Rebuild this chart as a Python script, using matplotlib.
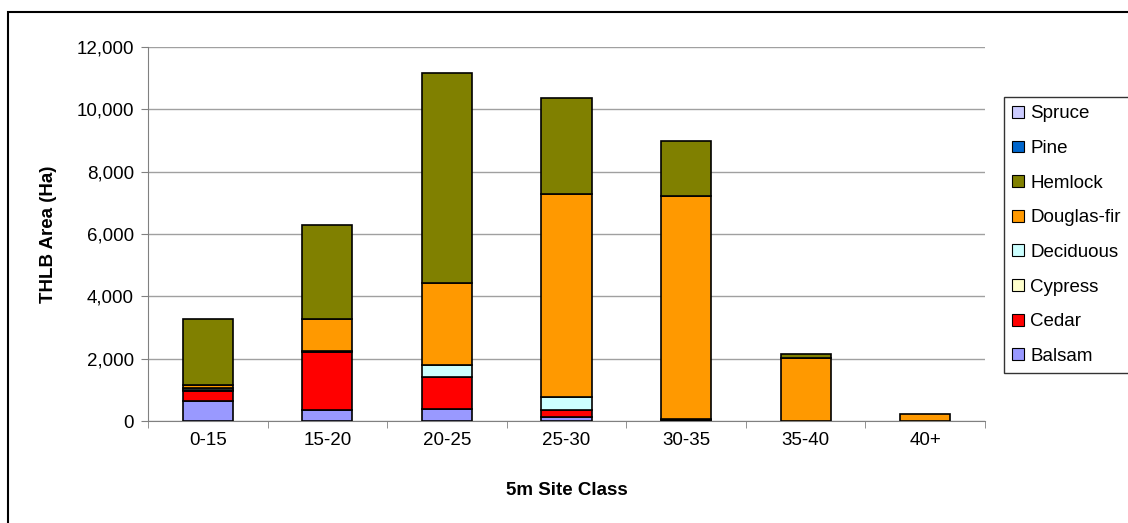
import matplotlib.pyplot as plt
from matplotlib.patches import Rectangle
from matplotlib.ticker import FuncFormatter, FixedLocator
import numpy as np

plt.rcParams['font.family'] = ['Liberation Sans', 'DejaVu Sans']

categories = ['0-15', '15-20', '20-25', '25-30', '30-35', '35-40', '40+']

# stacked bottom to top
balsam = [650, 350, 400, 120, 40, 0, 0]
cedar = [320, 1850, 1000, 220, 30, 0, 0]
cypress = [40, 30, 0, 0, 0, 0, 0]
deciduous = [40, 20, 390, 440, 10, 0, 0]
douglas = [120, 1010, 2640, 6500, 7150, 2030, 210]
hemlock = [2090, 3030, 6720, 3080, 1750, 120, 0]
pine = [0, 0, 0, 0, 0, 0, 0]
spruce = [0, 0, 0, 0, 0, 0, 0]

series = [
    ('Balsam', balsam, '#9999FF'),
    ('Cedar', cedar, '#FF0000'),
    ('Cypress', cypress, '#FFFFCC'),
    ('Deciduous', deciduous, '#CCFFFF'),
    ('Douglas-fir', douglas, '#FF9900'),
    ('Hemlock', hemlock, '#808000'),
    ('Pine', pine, '#0066CC'),
    ('Spruce', spruce, '#CCCCFF'),
]

fs = 13.5

fig = plt.figure(figsize=(11.28, 5.23), dpi=100)
ax = fig.add_axes([148/1128, 1 - 421/523, (985 - 148)/1128, (421 - 47)/523])

# outer chart border
fig.patches.append(Rectangle((8/1128, -0.05), 1.05, 1 - 12/523 + 0.05,
                             transform=fig.transFigure, fill=False,
                             edgecolor='black', linewidth=1.5))

x = np.arange(len(categories))
bottom = np.zeros(len(categories))
handles = []
for name, vals, col in series:
    vals = np.array(vals, dtype=float)
    mask = vals > 0
    ax.bar(x[mask], vals[mask], 0.42, bottom=bottom[mask], color=col,
           edgecolor='black', linewidth=1.2, label=name, zorder=3)
    handles.append(Rectangle((0, 0), 1, 1, facecolor=col, edgecolor='black', linewidth=0.8))
    bottom += vals

ax.set_xlim(-0.5, len(categories) - 0.5)
ax.set_ylim(0, 12000)
ax.set_yticks(range(0, 12001, 2000))
ax.yaxis.set_major_formatter(FuncFormatter(lambda v, p: f'{int(v):,}'))
ax.set_xticks(x)
ax.set_xticklabels(categories)
ax.xaxis.set_minor_locator(FixedLocator(np.arange(-0.5, len(categories), 1.0)))
ax.tick_params(axis='x', which='major', length=0, pad=8, labelsize=fs)
ax.tick_params(axis='x', which='minor', length=5, color='#808080')
ax.tick_params(axis='y', length=5, color='#808080', labelsize=fs, pad=5)
ax.grid(axis='y', color='#A0A0A0', linewidth=1, zorder=0)
for s in ['top', 'right']:
    ax.spines[s].set_visible(False)
for s in ['left', 'bottom']:
    ax.spines[s].set_color('#808080')

ax.set_ylabel('THLB Area (Ha)', fontsize=fs, fontweight='bold', labelpad=14)
ax.set_xlabel('5m Site Class', fontsize=fs, fontweight='bold', labelpad=24)

labels = [s[0] for s in series][::-1]
leg = fig.legend(handles[::-1], labels, loc='upper left',
                 bbox_to_anchor=(1004/1128, 1 - 97/523), fontsize=fs,
                 frameon=True, fancybox=False, edgecolor='black',
                 handlelength=0.6, handleheight=0.6, handletextpad=0.35,
                 labelspacing=0.94, borderpad=0.45, borderaxespad=0)
leg.get_frame().set_linewidth(1)

plt.savefig('out.png', dpi=100)
